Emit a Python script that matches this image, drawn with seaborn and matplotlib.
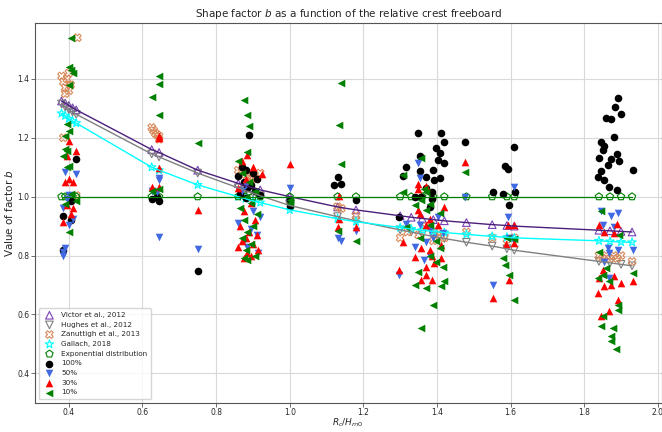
import matplotlib
matplotlib.use("Agg")
import matplotlib.pyplot as plt
import seaborn as sns
import numpy as np

# ---- empirical curves (value of b read at each relative freeboard) ----
curve_x = [0.38, 0.39, 0.40, 0.41, 0.42, 0.625, 0.645, 0.75, 0.86, 0.88, 0.90, 0.92,
           1.00, 1.13, 1.18, 1.30, 1.33, 1.36, 1.39, 1.42, 1.48, 1.55, 1.59, 1.61,
           1.84, 1.87, 1.90, 1.93]
victor_b = [1.325, 1.318, 1.31, 1.302, 1.295, 1.16, 1.15, 1.09, 1.045, 1.037, 1.03, 1.023,
            1.0, 0.965, 0.955, 0.935, 0.93, 0.926, 0.922, 0.918, 0.912, 0.905, 0.902, 0.90,
            0.886, 0.884, 0.882, 0.88]
hughes_b = [1.315, 1.305, 1.295, 1.287, 1.28, 1.145, 1.135, 1.08, 1.03, 1.02, 1.012, 1.003,
            0.97, 0.932, 0.918, 0.887, 0.88, 0.872, 0.865, 0.858, 0.845, 0.832, 0.823, 0.818,
            0.78, 0.775, 0.77, 0.765]
gallach_b = [1.283, 1.275, 1.265, 1.257, 1.25, 1.10, 1.09, 1.04, 1.0, 0.993, 0.985, 0.98,
             0.955, 0.925, 0.915, 0.895, 0.89, 0.886, 0.882, 0.878, 0.872, 0.865, 0.862, 0.86,
             0.85, 0.848, 0.846, 0.845]
expo_b = [1.0] * len(curve_x)

zan_x = [0.38, 0.385, 0.39, 0.395, 0.40, 0.405, 0.39, 0.40, 0.385, 0.42, 0.423,
         0.625, 0.63, 0.635, 0.64, 0.645, 0.645,
         0.86, 0.87, 0.88, 0.89, 0.90, 0.91, 0.92,
         1.13, 1.14, 1.18,
         1.30, 1.32, 1.35, 1.37, 1.39, 1.40, 1.41, 1.42,
         1.48, 1.55, 1.59, 1.61,
         1.84, 1.85, 1.86, 1.87, 1.88, 1.89, 1.90, 1.93]
zan_b = [1.41, 1.39, 1.37, 1.40, 1.36, 1.38, 1.35, 1.42, 1.20, 1.004, 1.54,
         1.235, 1.225, 1.215, 1.21, 1.205, 1.195,
         1.09, 1.085, 1.075, 1.07, 1.065, 1.06, 1.08,
         0.966, 0.96, 0.935,
         0.86, 0.88, 0.87, 0.90, 0.85, 0.88, 0.87, 0.86,
         0.88, 0.86, 0.855, 0.86,
         0.80, 0.79, 0.80, 0.79, 0.80, 0.79, 0.80, 0.78]

# ---- measured b for the four exceedance levels ----
b100_x = [0.42, 0.405, 0.385, 0.405, 0.385, 0.625, 0.645, 0.64, 0.75,
          0.89, 0.87, 0.88, 0.90, 0.86, 0.91, 0.875, 0.895, 0.885, 0.905, 0.865, 0.92, 0.88,
          1.0, 1.0, 1.13, 1.12, 1.14, 1.18,
          1.348, 1.411, 1.42, 1.398, 1.353, 1.407, 1.402, 1.42, 1.317, 1.307, 1.353, 1.389,
          1.371, 1.407, 1.393, 1.371, 1.387, 1.339, 1.357, 1.387, 1.38, 1.296,
          1.477, 1.552, 1.579, 1.608, 1.586, 1.592, 1.613, 1.597,
          1.891, 1.885, 1.90, 1.86, 1.873, 1.882, 1.846, 1.855, 1.85, 1.888, 1.873, 1.895,
          1.841, 1.864, 1.846, 1.932, 1.837, 1.855, 1.868, 1.888]
b100_b = [1.128, 0.985, 0.935, 0.92, 0.818, 0.993, 0.984, 1.0, 0.746,
          1.211, 1.10, 1.09, 1.08, 1.07, 1.06, 1.05, 1.04, 1.03, 1.02, 1.01, 1.005, 0.995,
          0.99, 0.968, 1.066, 1.038, 1.043, 0.987,
          1.215, 1.215, 1.184, 1.167, 1.139, 1.148, 1.124, 1.114, 1.10, 1.071, 1.088, 1.091,
          1.066, 1.063, 1.057, 1.029, 1.015, 0.998, 0.998, 0.993, 0.965, 0.931,
          1.186, 1.017, 1.01, 1.169, 1.105, 1.094, 1.017, 0.97,
          1.336, 1.305, 1.282, 1.268, 1.263, 1.203, 1.184, 1.173, 1.158, 1.145, 1.128, 1.122,
          1.13, 1.107, 1.088, 1.091, 1.066, 1.055, 1.033, 1.021]

b50_x = [0.39, 0.42, 0.395, 0.385, 0.41, 0.40, 0.385, 0.385, 0.39, 0.40,
         0.645, 0.645, 0.64, 0.625, 0.645, 0.75,
         0.88, 0.87, 0.90, 0.92, 0.86, 0.895, 0.91, 0.875, 0.885, 0.915,
         1.0, 1.13, 1.14, 1.18,
         1.348, 1.353, 1.317, 1.353, 1.38, 1.371, 1.402, 1.416, 1.339, 1.38, 1.366, 1.296, 1.389,
         1.477, 1.552, 1.592, 1.608, 1.597, 1.61,
         1.846, 1.873, 1.891, 1.85, 1.882, 1.932, 1.864, 1.891, 1.868, 1.855, 1.867]
b50_b = [1.083, 1.077, 0.993, 0.96, 0.925, 0.903, 0.813, 0.80, 0.824, 1.005,
         1.063, 1.055, 1.016, 1.02, 0.863, 0.822,
         1.04, 1.02, 0.95, 0.93, 0.91, 0.89, 0.87, 0.85, 0.83, 0.81,
         1.031, 0.858, 0.848, 0.882,
         1.114, 1.064, 0.908, 0.903, 0.886, 0.847, 0.93, 0.875, 0.83, 0.80, 0.785, 0.734, 0.86,
         0.998, 0.70, 0.931, 1.033, 0.858, 0.85,
         0.95, 0.935, 0.945, 0.903, 0.897, 0.818, 0.824, 0.818, 0.807, 0.779, 0.723]

b30_x = [0.42, 0.395, 0.40, 0.39, 0.41, 0.395, 0.41, 0.385, 0.405, 0.40,
         0.645, 0.645, 0.645, 0.625, 0.645, 0.75,
         0.885, 0.87, 0.90, 0.924, 0.88, 0.86, 0.895, 0.875, 0.905, 0.865, 0.89, 0.91,
         0.88, 0.87, 0.90, 0.86, 0.915, 0.885, 0.895, 0.875,
         1.0, 1.135, 1.135, 1.13, 1.18,
         1.348, 1.371, 1.348, 1.42, 1.348, 1.353, 1.38, 1.371, 1.402, 1.307, 1.357, 1.38,
         1.411, 1.387, 1.339, 1.411, 1.393, 1.371, 1.296, 1.371, 1.357, 1.387,
         1.477, 1.552, 1.588, 1.608, 1.597, 1.592, 1.608,
         1.841, 1.888, 1.855, 1.882, 1.85, 1.841, 1.855, 1.837, 1.882, 1.873, 1.90, 1.932,
         1.891, 1.867, 1.846]
b30_b = [1.156, 1.139, 1.06, 1.05, 1.05, 0.97, 0.96, 0.914, 0.94, 1.19,
         1.206, 1.198, 1.097, 1.033, 1.033, 0.953,
         1.141, 1.12, 1.10, 1.077, 1.06, 1.03, 0.98, 0.95, 0.92, 0.90, 0.88, 0.87,
         0.86, 0.85, 0.84, 0.83, 0.82, 0.81, 0.80, 0.79,
         1.11, 1.002, 0.925, 0.898, 0.897,
         1.043, 1.035, 1.027, 0.965, 0.955, 0.94, 0.925, 0.903, 0.905, 0.847, 0.824, 0.818,
         0.835, 0.80, 0.796, 0.79, 0.773, 0.76, 0.751, 0.734, 0.717, 0.717,
         1.117, 0.655, 0.838, 0.844, 0.717, 0.903, 0.905,
         0.905, 0.908, 0.88, 0.875, 0.751, 0.723, 0.695, 0.672, 0.729, 0.70, 0.706, 0.712,
         0.65, 0.61, 0.594]

b10_x = [0.405, 0.40, 0.405, 0.41, 0.40, 0.395, 0.40, 0.39, 0.39, 0.395, 0.385, 0.40, 0.395,
         0.405, 0.39, 0.42, 0.40,
         0.645, 0.645, 0.625, 0.645, 0.645, 0.625, 0.75,
         0.875, 0.885, 0.89, 0.885, 0.86, 0.87, 0.89, 0.905, 0.88, 0.895, 0.865, 0.91, 0.875,
         0.90, 0.885, 0.87, 0.895, 0.88, 0.905, 0.875, 0.885,
         1.0, 1.0, 1.139, 1.134, 1.138, 1.132, 1.18,
         1.357, 1.307, 1.307, 1.366, 1.371, 1.357, 1.339, 1.38, 1.371, 1.407, 1.317, 1.38,
         1.353, 1.398, 1.407, 1.38, 1.398, 1.348, 1.416, 1.42, 1.339, 1.371, 1.411, 1.389,
         1.357,
         1.477, 1.579, 1.586, 1.597, 1.608, 1.59, 1.61,
         1.846, 1.895, 1.841, 1.86, 1.85, 1.837, 1.868, 1.932, 1.891, 1.891, 1.85, 1.846,
         1.879, 1.873, 1.873, 1.886]
b10_b = [1.54, 1.44, 1.43, 1.42, 1.38, 1.246, 1.223, 1.206, 1.162, 1.156, 1.139, 1.105,
         1.10, 1.01, 0.976, 0.985, 0.88,
         1.411, 1.384, 1.338, 1.276, 1.027, 1.02, 1.182,
         1.327, 1.276, 1.24, 1.152, 1.122, 1.08, 1.05, 1.02, 1.00, 0.98, 0.96, 0.94, 0.92,
         0.90, 0.88, 0.86, 0.84, 0.82, 0.80, 0.79, 0.785,
         0.99, 0.98, 1.386, 1.242, 1.111, 0.882, 0.85,
         1.13, 1.074, 1.015, 1.027, 1.015, 0.987, 0.97, 0.975, 0.953, 0.945, 0.897, 0.903,
         0.858, 0.848, 0.826, 0.80, 0.779, 0.745, 0.762, 0.712, 0.70, 0.689, 0.698, 0.633,
         0.554,
         1.085, 0.79, 0.768, 0.734, 0.65, 0.86, 0.855,
         0.95, 0.869, 0.813, 0.757, 0.734, 0.723, 0.712, 0.74, 0.633, 0.616, 0.594, 0.56,
         0.554, 0.526, 0.509, 0.484]

sns.set_style("ticks", {"axes.grid": True, "grid.color": "#d9d9d9",
                        "axes.edgecolor": "#555555"})
plt.rcParams["font.family"] = ["DejaVu Sans"]

fig = plt.figure(figsize=(6.62, 4.32), dpi=100)
ax = fig.add_axes([35 / 662, (432 - 402.7) / 432, (661.5 - 35) / 662, (402.7 - 22.7) / 432])

ms = 30
mk_open = dict(s=ms, facecolor="none", linewidth=0.8)

# curves: line first, then the markers that carry the legend entry
sns.lineplot(x=curve_x, y=victor_b, color="#4b1f7a", linewidth=1.0, ax=ax, legend=False)
sns.lineplot(x=curve_x, y=hughes_b, color="gray", linewidth=1.0, ax=ax, legend=False)
sns.lineplot(x=curve_x, y=gallach_b, color="cyan", linewidth=1.0, ax=ax, legend=False)
sns.lineplot(x=curve_x, y=expo_b, color="green", linewidth=0.9, ax=ax, legend=False)

sns.scatterplot(x=curve_x, y=victor_b, marker="^", edgecolor="#7a40b8", color="#7a40b8",
                label="Victor et al., 2012", ax=ax, **mk_open)
sns.scatterplot(x=curve_x, y=hughes_b, marker="v", edgecolor="gray", color="gray",
                label="Hughes et al., 2012", ax=ax, **mk_open)
sns.scatterplot(x=zan_x, y=zan_b, marker="X", edgecolor="#d8895a", color="#d8895a",
                label="Zanuttigh et al., 2013", ax=ax, **mk_open)
sns.scatterplot(x=curve_x, y=gallach_b, marker="*", edgecolor="cyan", color="cyan",
                label="Gallach, 2018", ax=ax, s=40, facecolor="none", linewidth=0.8)
sns.scatterplot(x=curve_x, y=expo_b, marker="p", edgecolor="green", color="green",
                label="Exponential distribution", ax=ax, **mk_open)

sns.scatterplot(x=b100_x, y=b100_b, marker="o", color="black", edgecolor="black",
                s=ms, linewidth=0, label="100%", ax=ax)
sns.scatterplot(x=b50_x, y=b50_b, marker="v", color="royalblue", edgecolor="royalblue",
                s=ms, linewidth=0, label="50%", ax=ax)
sns.scatterplot(x=b30_x, y=b30_b, marker="^", color="red", edgecolor="red",
                s=ms, linewidth=0, label="30%", ax=ax)
sns.scatterplot(x=b10_x, y=b10_b, marker="<", color="green", edgecolor="green",
                s=ms, linewidth=0, label="10%", ax=ax)

ax.set_xlim(0.308, 2.01)
ax.set_ylim(0.3, 1.591)
ax.set_xticks([0.4, 0.6, 0.8, 1.0, 1.2, 1.4, 1.6, 1.8, 2.0])
ax.set_yticks([0.4, 0.6, 0.8, 1.0, 1.2, 1.4])
ax.tick_params(labelsize=5.5, length=3, width=0.6, color="#555555", pad=1)
for sp in ax.spines.values():
    sp.set_linewidth(0.8)

ax.set_title("Shape factor $b$ as a function of the relative crest freeboard",
             fontsize=7.5, pad=4)
ax.set_xlabel("$R_c/H_{m0}$", fontsize=6.5)
ax.xaxis.set_label_coords(0.5, -0.037)
ax.set_ylabel("Value of factor $b$", fontsize=7.5, labelpad=2)

ax.legend(loc="lower left", fontsize=5.2, frameon=True, framealpha=0.8,
          borderpad=0.5, labelspacing=0.5, handletextpad=0.6,
          bbox_to_anchor=(0.0, 0.0))

fig.savefig("out.png", dpi=100)
